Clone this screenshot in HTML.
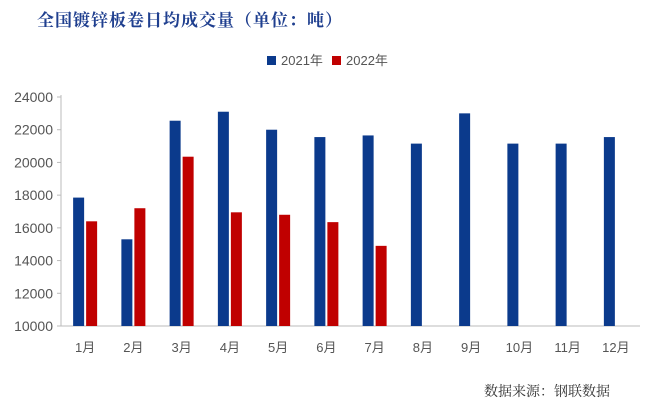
<!DOCTYPE html>
<html><head><meta charset="utf-8"><style>
body{margin:0;width:660px;height:408px;background:#fff;overflow:hidden;font-family:"Liberation Sans","Noto Sans CJK SC",sans-serif}
#title{position:absolute;left:37px;top:6px;font:bold 17px "Liberation Serif","Noto Serif CJK SC",serif;color:#1f3f8f;letter-spacing:1px}
#src{position:absolute;left:484px;top:381px;font:14px "Liberation Serif","Noto Serif CJK SC",serif;color:#333}
svg{position:absolute;left:0;top:0}
</style></head><body>
<div id="title">全国镀锌板卷日均成交量（单位：吨）</div>
<div id="src">数据来源：钢联数据</div>
<svg id="c" width="660" height="408"></svg>
<script>
const categories=["1月","2月","3月","4月","5月","6月","7月","8月","9月","10月","11月","12月"];
const series2021=[17850,15300,22550,23100,22000,21550,21650,21150,23000,21150,21150,21550];
const series2022=[16400,17200,20350,16950,16800,16350,14900];
const yTicks=[10000,12000,14000,16000,18000,20000,22000,24000];
const seriesNames=["2021年","2022年"];
const colors=["#0b3a8c","#c00000"];
const svg=document.getElementById('c');const NS="http://www.w3.org/2000/svg";
const x0=61,x1=640,y0=326,y1=97,vmin=10000,vmax=24000;
const bw=(x1-x0)/categories.length;
const y=v=>y0-(v-vmin)/(vmax-vmin)*(y0-y1);
function mk(t,a,txt){const e=document.createElementNS(NS,t);for(const k in a)e.setAttribute(k,a[k]);if(txt!=null)e.textContent=txt;svg.appendChild(e);return e;}
let e=mk('line',{x1:x0,y1:y1-2,x2:x0,y2:y0,stroke:'#bbb'});


e=mk('line',{x1:x0,y1:y0,x2:x1,y2:y0,stroke:'#bbb'});


yTicks.forEach(t=>{
 mk('line',{x1:x0-4,y1:y(t),x2:x0,y2:y(t),stroke:'#bbb'});
 e=mk('text',{x:x0-8,y:y(t)+5,'text-anchor':'end','font-size':14,fill:'#555'},t);
 
 
});
categories.forEach((c,i)=>{
 const cx=x0+bw*(i+0.5);
 e=mk('text',{x:cx,y:352,'text-anchor':'middle','font-size':13,fill:'#555'},c);
 
 
 [series2021,series2022].forEach((s,j)=>{
  if(s[i]==null)return;
  const bx=cx-12+j*13;
  e=mk('rect',{x:bx,y:y(s[i]),width:11,height:y0-y(s[i]),fill:colors[j]});
  
  
 });
});
[[267,seriesNames[0]],[332,seriesNames[1]]].forEach(([lx,n],j)=>{
 e=mk('rect',{x:lx,y:56,width:9,height:9,fill:colors[j]});
 
 
 e=mk('text',{x:lx+14,y:65,'font-size':13,fill:'#555'},n);
 
 
});
</script>
</body></html>
